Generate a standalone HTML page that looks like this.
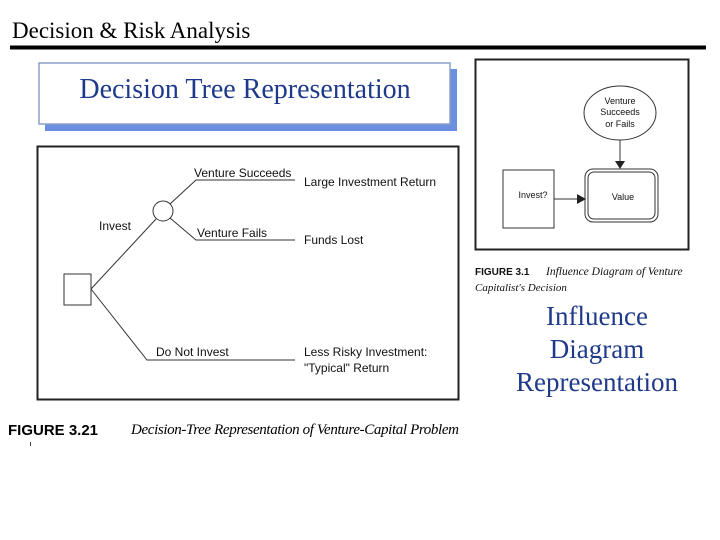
<!DOCTYPE html>
<html><head><meta charset="utf-8"><style>
html,body{margin:0;padding:0;background:#fff;}
body{width:720px;height:540px;position:relative;overflow:hidden;}
svg{position:absolute;left:0;top:0;}
</style></head><body>
<svg width="720" height="540" viewBox="0 0 720 540" xmlns="http://www.w3.org/2000/svg">
<text x="12" y="38" font-family="Liberation Serif, serif" font-size="23" fill="#000">Decision &amp; Risk Analysis</text>
<rect x="10" y="45.5" width="696" height="4" fill="#000"/>
<!-- title box -->
<rect x="45" y="69" width="412" height="62" fill="#6b8fe0"/>
<rect x="39" y="63" width="411" height="61" fill="#fff" stroke="#8aa0c8" stroke-width="1.5"/>
<text x="245" y="98" text-anchor="middle" font-family="Liberation Serif, serif" font-size="28" fill="#1f3a8a">Decision Tree Representation</text>
<!-- tree box -->
<rect x="37.5" y="146.5" width="421" height="253" fill="#fff" stroke="#222" stroke-width="2"/>
<g stroke="#333" stroke-width="1" fill="none">
<rect x="64" y="274" width="27" height="31" fill="#fff"/>
<circle cx="163" cy="211" r="10" fill="#fff"/>
<line x1="91" y1="289" x2="156" y2="219"/>
<polyline points="170,204 196,180 295,180"/>
<polyline points="170,218 196,240 295,240"/>
<polyline points="91,289 147,360 295,360"/>
</g>
<g font-family="Liberation Sans, sans-serif" font-size="12" fill="#111">
<text x="194" y="177">Venture Succeeds</text>
<text x="304" y="186">Large Investment Return</text>
<text x="99" y="230">Invest</text>
<text x="197" y="237">Venture Fails</text>
<text x="304" y="244">Funds Lost</text>
<text x="156" y="356">Do Not Invest</text>
<text x="304" y="356">Less Risky Investment:</text>
<text x="304" y="372">"Typical" Return</text>
</g>
<text x="8" y="435" font-family="Liberation Sans, sans-serif" font-weight="bold" font-size="15" fill="#000">FIGURE 3.21</text>
<text x="131" y="434" font-family="Liberation Serif, serif" font-style="italic" font-size="15" fill="#000" textLength="328">Decision-Tree Representation of Venture-Capital Problem</text>
<rect x="30" y="442" width="1" height="4" fill="#444"/>
<!-- influence box -->
<rect x="475.5" y="59.5" width="213" height="190" fill="#fff" stroke="#222" stroke-width="2"/>
<g stroke="#333" stroke-width="1" fill="none">
<ellipse cx="620" cy="113" rx="36" ry="27" fill="#fff"/>
<line x1="620" y1="140" x2="620" y2="162"/>
<rect x="503" y="170" width="51" height="58" fill="#fff"/>
<line x1="554" y1="199" x2="578" y2="199"/>
<rect x="585" y="169" width="73" height="53" rx="8" fill="#fff"/>
<rect x="588" y="172" width="67" height="47" rx="6"/>
</g>
<polygon points="615,161 625,161 620,169" fill="#222"/>
<polygon points="577,194 577,204 586,199" fill="#222"/>
<g font-family="Liberation Sans, sans-serif" font-size="9" fill="#111" text-anchor="middle">
<text x="620" y="104">Venture</text>
<text x="620" y="115">Succeeds</text>
<text x="620" y="127">or Fails</text>
<text x="533" y="198">Invest?</text>
<text x="623" y="200">Value</text>
</g>
<text x="475" y="275" font-family="Liberation Sans, sans-serif" font-weight="bold" font-size="10" fill="#111">FIGURE 3.1</text>
<text x="546" y="275" font-family="Liberation Serif, serif" font-style="italic" font-size="11.5" fill="#111">Influence Diagram of Venture</text>
<text x="475" y="291" font-family="Liberation Serif, serif" font-style="italic" font-size="11" fill="#111">Capitalist's Decision</text>
<g font-family="Liberation Serif, serif" font-size="27" fill="#1f3a8a" text-anchor="middle">
<text x="597" y="325">Influence</text>
<text x="597" y="358">Diagram</text>
<text x="597" y="391">Representation</text>
</g>
</svg>
</body></html>
